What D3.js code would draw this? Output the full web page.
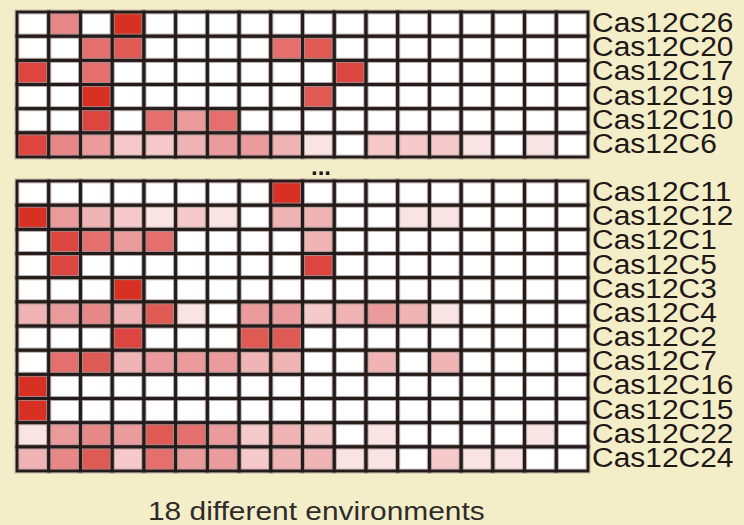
<!DOCTYPE html>
<html>
<head>
<meta charset="utf-8">
<script src="https://cdn.jsdelivr.net/npm/d3@7"></script>
<style>
  body { margin: 0; background: #f3eec8; }
  svg { display: block; }
</style>
</head>
<body>
<svg width="744" height="525"></svg>
<script>
let width = 744;
let height = 525;

// 18 environments (columns)
let envs = d3.range(1, 19);

let topRows = ["Cas12C26", "Cas12C20", "Cas12C17", "Cas12C19", "Cas12C10", "Cas12C6"];
let bottomRows = ["Cas12C11", "Cas12C12", "Cas12C1", "Cas12C5", "Cas12C3", "Cas12C4",
  "Cas12C2", "Cas12C7", "Cas12C16", "Cas12C15", "Cas12C22", "Cas12C24"];

// intensity level 0 (white) .. 9 (dark red), one value per environment
let topValues = [
  [0, 5, 0, 9, 0, 0, 0, 0, 0, 0, 0, 0, 0, 0, 0, 0, 0, 0],
  [0, 0, 6, 7, 0, 0, 0, 0, 6, 7, 0, 0, 0, 0, 0, 0, 0, 0],
  [8, 0, 6, 0, 0, 0, 0, 0, 0, 0, 8, 0, 0, 0, 0, 0, 0, 0],
  [0, 0, 9, 0, 0, 0, 0, 0, 0, 7, 0, 0, 0, 0, 0, 0, 0, 0],
  [0, 0, 8, 0, 6, 4, 6, 0, 0, 0, 0, 0, 0, 0, 0, 0, 0, 0],
  [8, 5, 4, 2, 2, 3, 4, 4, 3, 1, 0, 2, 2, 2, 1, 0, 1, 0]
];
let bottomValues = [
  [0, 0, 0, 0, 0, 0, 0, 0, 9, 0, 0, 0, 0, 0, 0, 0, 0, 0],
  [9, 4, 3, 2, 1, 2, 1, 0, 3, 3, 0, 0, 1, 1, 0, 0, 0, 0],
  [0, 8, 6, 4, 6, 0, 0, 0, 0, 3, 0, 0, 0, 0, 0, 0, 0, 0],
  [0, 8, 0, 0, 0, 0, 0, 0, 0, 8, 0, 0, 0, 0, 0, 0, 0, 0],
  [0, 0, 0, 9, 0, 0, 0, 0, 0, 0, 0, 0, 0, 0, 0, 0, 0, 0],
  [3, 4, 5, 3, 7, 1, 0, 4, 4, 2, 3, 4, 3, 1, 0, 0, 0, 0],
  [0, 0, 0, 8, 0, 0, 0, 7, 7, 0, 0, 0, 0, 0, 0, 0, 0, 0],
  [0, 6, 7, 3, 4, 4, 4, 3, 3, 0, 0, 3, 0, 3, 0, 0, 0, 0],
  [9, 0, 0, 0, 0, 0, 0, 0, 0, 0, 0, 0, 0, 0, 0, 0, 0, 0],
  [9, 0, 0, 0, 0, 0, 0, 0, 0, 0, 0, 0, 0, 0, 0, 0, 0, 0],
  [1, 4, 5, 4, 7, 6, 4, 2, 3, 2, 0, 1, 0, 0, 0, 0, 1, 0],
  [3, 5, 7, 2, 6, 4, 4, 2, 3, 3, 1, 1, 0, 2, 1, 1, 0, 0]
];

let levels = d3.range(0, 10);
let palette = ["#ffffff", "#fae4e3", "#f6cacb", "#f1b4b4", "#ec9b9c",
  "#e88886", "#e46f6c", "#e05a54", "#dd4540", "#d93024"];

let bottomLabel = "18 different environments";

let svg = d3.select("svg");
let color = d3.scaleOrdinal().domain(levels).range(palette);

let xScale = d3.scaleBand().domain(envs).range([17, 588]);

function drawBlock(rows, values, y0, y1) {
  let yScale = d3.scaleBand().domain(rows).range([y0, y1]);
  let cells = [];
  for (var r = 0; r < rows.length; r++) {
    for (var c = 0; c < envs.length; c++) {
      cells.push({ row: rows[r], env: envs[c], v: values[r][c] });
    }
  }
  let g = svg.append("g");

  g.selectAll("rect.cell")
    .data(cells)
    .enter()
    .append("rect")
    .attr("class", "cell")
    .attr("x", d => xScale(d.env))
    .attr("y", d => yScale(d.row))
    .attr("width", xScale.bandwidth())
    .attr("height", yScale.bandwidth())
    .style("fill", d => color(d.v));

  // soft grey halo under the grid lines
  g.selectAll("rect.halo")
    .data(cells)
    .enter()
    .append("rect")
    .attr("class", "halo")
    .attr("x", d => xScale(d.env))
    .attr("y", d => yScale(d.row))
    .attr("width", xScale.bandwidth())
    .attr("height", yScale.bandwidth())
    .style("fill", "none")
    .style("stroke", "#9c9494")
    .style("stroke-opacity", 0.55)
    .style("stroke-width", 5);

  g.selectAll("rect.line")
    .data(cells)
    .enter()
    .append("rect")
    .attr("class", "line")
    .attr("x", d => xScale(d.env))
    .attr("y", d => yScale(d.row))
    .attr("width", xScale.bandwidth())
    .attr("height", yScale.bandwidth())
    .style("fill", "none")
    .style("stroke", "#261b1b")
    .style("stroke-width", 2.8);

  g.selectAll("text.label")
    .data(rows)
    .enter()
    .append("text")
    .attr("class", "label")
    .attr("transform", d => "translate(592," + (yScale(d) + yScale.bandwidth() / 2 + 8) + ") scale(1.07,1)")
    .style("font-family", "Liberation Sans, Arial, sans-serif")
    .style("font-size", "28px")
    .style("fill", "#1e1818")
    .text(d => d);
}

drawBlock(topRows, topValues, 12, 157);
drawBlock(bottomRows, bottomValues, 181, 471);

svg.append("text")
  .attr("x", 321)
  .attr("y", 175)
  .attr("text-anchor", "middle")
  .style("font-family", "Liberation Sans, Arial, sans-serif")
  .style("font-size", "24px")
  .style("font-weight", "bold")
  .style("fill", "#1e1818")
  .text("...");

svg.append("text")
  .attr("transform", "translate(148,520) scale(1.15,1)")
  .style("font-family", "Liberation Sans, Arial, sans-serif")
  .style("font-size", "26px")
  .style("fill", "#2f2b2b")
  .text(bottomLabel);
</script>
</body>
</html>
